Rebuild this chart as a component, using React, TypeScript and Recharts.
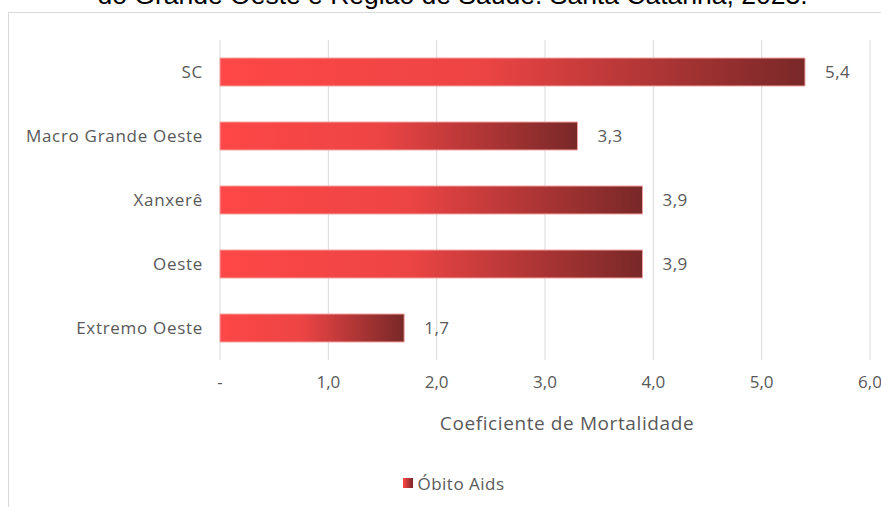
import { BarChart, Bar, XAxis, YAxis, CartesianGrid, LabelList, Legend } from 'recharts';

const categories = ['SC', 'Macro Grande Oeste', 'Xanxerê', 'Oeste', 'Extremo Oeste'];
const obitoAids = [5.4, 3.3, 3.9, 3.9, 1.7];
const xTicks = [0, 1, 2, 3, 4, 5, 6];

const data = categories.map((name, i) => ({ name, value: obitoAids[i] }));

const fmt = (v: number) => (v === 0 ? '-' : v.toFixed(1).replace('.', ','));
const font = '"Open Sans", sans-serif';
const gray = '#595959';

function LegendContent() {
  return (
    <div style={{ height: 24, paddingLeft: 34, display: 'flex', alignItems: 'center', justifyContent: 'center', fontFamily: font, fontSize: 17, letterSpacing: 0.5, color: gray }}>
      <svg width={10} height={10} style={{ marginRight: 4, marginLeft: 4 }}>
        <defs>
          <linearGradient id="legGrad" x1="0" y1="0" x2="1" y2="0">
            <stop offset="0%" stopColor="#ff4747" />
            <stop offset="100%" stopColor="#7a2828" />
          </linearGradient>
        </defs>
        <rect x={0} y={0} width={10} height={10} fill="url(#legGrad)" />
      </svg>
      <span>Óbito Aids</span>
    </div>
  );
}

export default function App() {
  return (
    <div style={{ position: 'absolute', left: 0, top: 0, width: 881, height: 507, background: '#fff', overflow: 'hidden' }}>
      <div
        style={{
          position: 'absolute',
          left: 0,
          width: 881,
          top: -20,
          textAlign: 'center',
          fontFamily: '"Liberation Sans", Arial, sans-serif',
          fontSize: 26.5,
          lineHeight: '30px',
          color: '#000',
          whiteSpace: 'nowrap',
          paddingLeft: 24,
          boxSizing: 'border-box',
        }}
      >
        do Grande Oeste e Região de Saúde. Santa Catarina, 2023.
      </div>
      <div style={{ position: 'absolute', left: 8, top: 12, width: 900, height: 520, border: '1px solid #d9d9d9', boxSizing: 'border-box' }} />
      <div style={{ position: 'absolute', left: 0, top: 0 }}>
        <BarChart
          width={881}
          height={507}
          layout="vertical"
          data={data}
          margin={{ top: 40, right: 11, left: 0, bottom: 57 }}
          barSize={28}
        >
          <defs>
            <linearGradient id="barGrad" x1="0" y1="0" x2="1" y2="0">
              <stop offset="0%" stopColor="#ff4747" />
              <stop offset="45%" stopColor="#ec4444" />
              <stop offset="100%" stopColor="#792828" />
            </linearGradient>
          </defs>
          <CartesianGrid horizontal={false} vertical={true} stroke="#d9d9d9" />
          <XAxis
            type="number"
            domain={[0, 6]}
            ticks={xTicks}
            tickFormatter={fmt}
            axisLine={false}
            tickLine={false}
            tickSize={0}
            tickMargin={16}
            height={66}
            interval={0}
            tick={{ fontSize: 17, fill: gray, fontFamily: font }}
            label={{
              value: 'Coeficiente de Mortalidade',
              position: 'insideBottom',
              offset: 0,
              dx: 22,
              dy: 4,
              fill: gray,
              fontSize: 19,
              letterSpacing: 0.6,
              fontFamily: font,
            }}
          />
          <YAxis
            type="category"
            dataKey="name"
            width={220}
            axisLine={false}
            tickLine={false}
            tickSize={0}
            tickMargin={17}
            tick={{ fontSize: 17, fill: gray, fontFamily: font, letterSpacing: 0.7 }}
          />
          <Legend content={<LegendContent />} wrapperStyle={{ top: 471, bottom: 'auto' }} />
          <Bar dataKey="value" name="Óbito Aids" fill="url(#barGrad)" stroke="#f2a3a3" strokeWidth={1} isAnimationActive={false}>
            <LabelList
              dataKey="value"
              position="right"
              offset={20}
              formatter={(v: any) => fmt(Number(v))}
              style={{ fontSize: 17, fill: gray, fontFamily: font, letterSpacing: 0.5 }}
            />
          </Bar>
        </BarChart>
      </div>
    </div>
  );
}
